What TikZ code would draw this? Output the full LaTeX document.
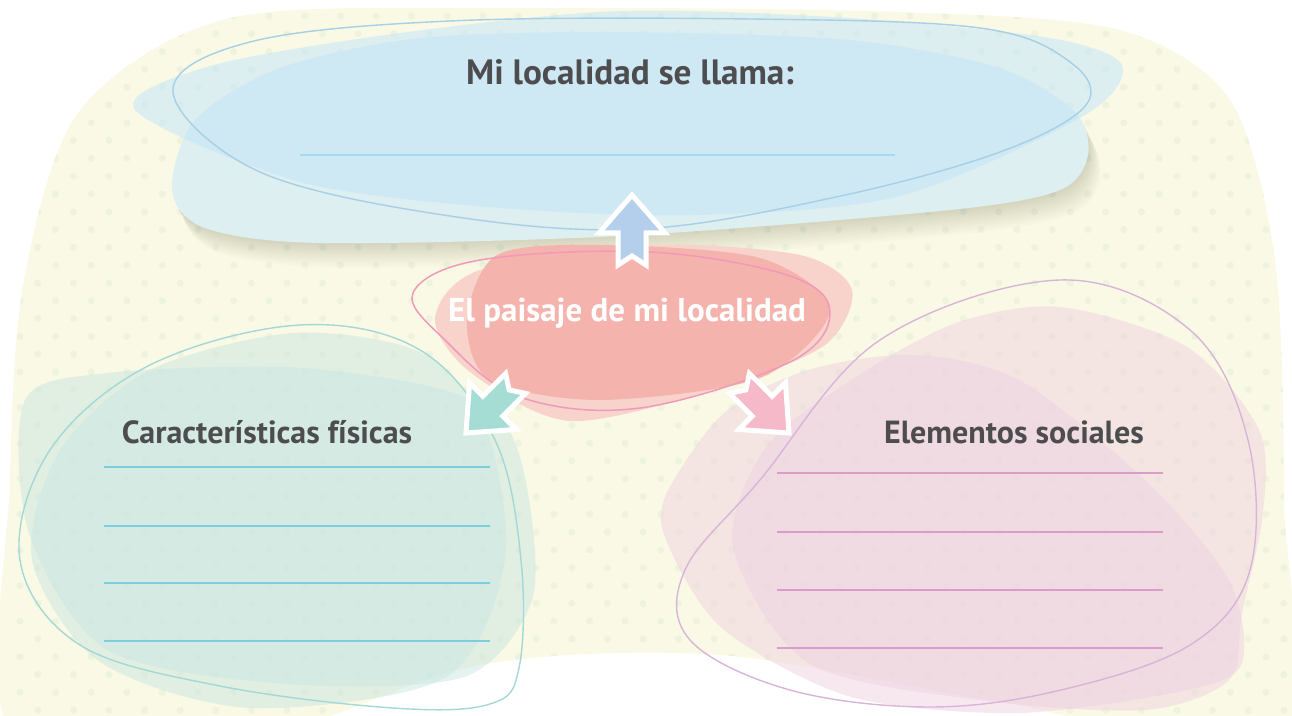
\documentclass[tikz,border=0pt]{standalone}
\usepackage{fontspec}
\setmainfont{PT Sans}
\usepackage{xcolor}
\usepackage{tikz}
\usetikzlibrary{positioning,calc}

\definecolor{fondo}{HTML}{FAF9E6}
\definecolor{punto}{HTML}{EDF3DD}
\definecolor{azulA}{HTML}{DDEFF0}
\definecolor{azulB}{HTML}{C2E5F9}
\definecolor{azulT}{HTML}{A7CFE5}
\definecolor{azulL}{HTML}{A6D9F2}
\definecolor{rosaA}{HTML}{F8D3CC}
\definecolor{rosaB}{HTML}{F5B3AD}
\definecolor{rosaT}{HTML}{F09AB9}
\definecolor{verde}{HTML}{CAE7E2}
\definecolor{verdeT}{HTML}{A3D8D6}
\definecolor{verdeL}{HTML}{7CCEDF}
\definecolor{lila}{HTML}{EFD2E2}
\definecolor{lilaT}{HTML}{D8B5D8}
\definecolor{lilaL}{HTML}{DA9CCB}
\definecolor{texto}{HTML}{4D4D4F}
\definecolor{flechaA}{HTML}{B4CFEB}
\definecolor{flechaV}{HTML}{A5DCD4}
\definecolor{flechaR}{HTML}{F5B9C9}

% fondo amarillo
\newcommand{\fondopath}{plot[smooth cycle] coordinates {(14,740) (10,480) (24,280) (80,110) (230,18) (520,8) (900,12) (1120,30) (1230,100) (1275,260) (1284,500) (1278,740) (1000,702) (720,655) (480,665) (250,740)}}
% parte azul de abajo
\newcommand{\azulpath}{plot[smooth cycle] coordinates {(172,190) (195,120) (280,68) (420,38) (620,32) (850,40) (1000,68) (1075,112) (1088,155) (1060,190) (950,210) (620,236) (320,243) (205,228)}}

% flecha gruesa: punta en (#1,#2), angulo #3, color #4
\newcommand{\flecha}[4]{%
  \begin{scope}[shift={(#1,#2)},rotate=#3]
    \draw[white,line width=2.5pt,fill=#4,line join=miter]
      (0,0) -- (33,38) -- (14,38) -- (14,70) -- (0,61) -- (-14,70) -- (-14,38) -- (-33,38) -- cycle;
  \end{scope}}

\tikzset{
  titulo/.style={text=texto,font=\bfseries\fontsize{17.6}{20}\selectfont},
  rotulo/.style={text=texto,font=\bfseries\fontsize{16}{19}\selectfont},
  centro/.style={text=white,font=\bfseries\fontsize{16.5}{19}\selectfont},
  renglon/.style={line width=1pt},
  borde/.style={line width=0.7pt}
}

\begin{document}
\begin{tikzpicture}[x=0.5pt,y=-0.5pt]
    \useasboundingbox (0,0) rectangle (1292,716);
    \clip (0,0) rectangle (1292,716);

    % fondo con puntos
    \fill[fondo] \fondopath;
    \begin{scope}
        \clip \fondopath;
        \foreach \i in {0,...,40}
            \foreach \j in {0,...,36}
                \fill[punto] ({20+35.6*\j+17.8*mod(\i,2)},{16+17.8*\i}) circle (3.5);
    \end{scope}

    % nube azul (arriba)
    \foreach \s in {2,4,...,24}
        \fill[black!70!yellow,opacity=0.018,shift={(\s*0.5,\s)}] \azulpath;
    \fill[azulA] \azulpath;
    \fill[azulB,opacity=0.52] plot[smooth cycle] coordinates {(135,110) (210,66) (400,33) (620,11) (850,18) (1050,38) (1122,65) (1085,115) (900,196) (700,215) (500,208) (300,182)};
    \draw[azulT,borde] plot[smooth cycle,tension=0.6] coordinates {(173,92) (250,42) (450,21) (750,19) (980,28) (1070,62) (1086,105) (1000,152) (836,197) (640,229) (450,216) (260,172)};
    \draw[azulL,renglon] (300,155) -- (895,155);

    % nube verde (izquierda)
    \fill[verde,opacity=0.5] plot[smooth cycle] coordinates {(25,400) (107,373) (286,367) (429,386) (500,417) (527,487) (532,600) (464,677) (286,684) (107,650) (29,533)};
    \fill[verde,opacity=0.5] plot[smooth cycle] coordinates {(293,333) (420,352) (485,425) (505,560) (445,678) (250,708) (100,662) (32,560) (60,450) (150,370)};
    \draw[verdeT,borde] plot[smooth cycle,tension=0.6] coordinates {(300,325) (420,350) (495,440) (521,560) (519,668) (490,704) (393,708) (220,686) (80,645) (20,560) (50,450) (150,365)};
    \foreach \y in {467,526,583,641}
        \draw[verdeL,renglon] (104,\y) -- (490,\y);

    % nube lila (derecha)
    \fill[lila,opacity=0.5] plot[smooth cycle] coordinates {(1061,307) (1187,347) (1259,430) (1263,513) (1242,613) (1229,680) (1145,710) (977,700) (808,663) (733,547) (766,447) (851,380) (956,323)};
    \fill[lila,opacity=0.5] plot[smooth cycle] coordinates {(665,497) (724,413) (808,370) (914,355) (1019,380) (1145,480) (1229,580) (1242,663) (1187,690) (1019,713) (851,697) (724,630) (669,547)};
    \draw[lilaT,borde] plot[smooth cycle,tension=0.6] coordinates {(1060,280) (1190,330) (1248,440) (1250,570) (1190,645) (1061,690) (930,707) (790,690) (690,640) (685,570) (760,480) (880,340)};
    \foreach \y in {473,532,590,648}
        \draw[lilaL,renglon] (777,\y) -- (1163,\y);

    % nube rosa (centro)
    \fill[rosaA] plot[smooth cycle] coordinates {(435,318) (480,270) (650,245) (800,255) (852,290) (825,345) (720,388) (570,421) (470,372)};
    \fill[rosaB] plot[smooth cycle] coordinates {(467,320) (497,255) (600,245) (760,258) (830,310) (760,378) (600,400) (490,380)};
    \draw[rosaT,line width=0.75pt] plot[smooth cycle,tension=0.6] coordinates {(413,293) (480,260) (650,252) (790,276) (830,313) (790,362) (640,408) (520,397) (445,340)};

    % textos
    \node[titulo] (localidad) at (630,72) {Mi localidad se llama:};
    \node[centro] (paisaje) at (627,313) {El paisaje de mi localidad};
    \node[rotulo] (fisicas) at (267,432) {Características físicas};
    \node[rotulo] (sociales) at (1014,432) {Elementos sociales};

    % flechas
    \flecha{632}{195}{0}{flechaA}
    \flecha{466}{433}{135}{flechaV}
    \flecha{789}{433}{-135}{flechaR}
\end{tikzpicture}
\end{document}
